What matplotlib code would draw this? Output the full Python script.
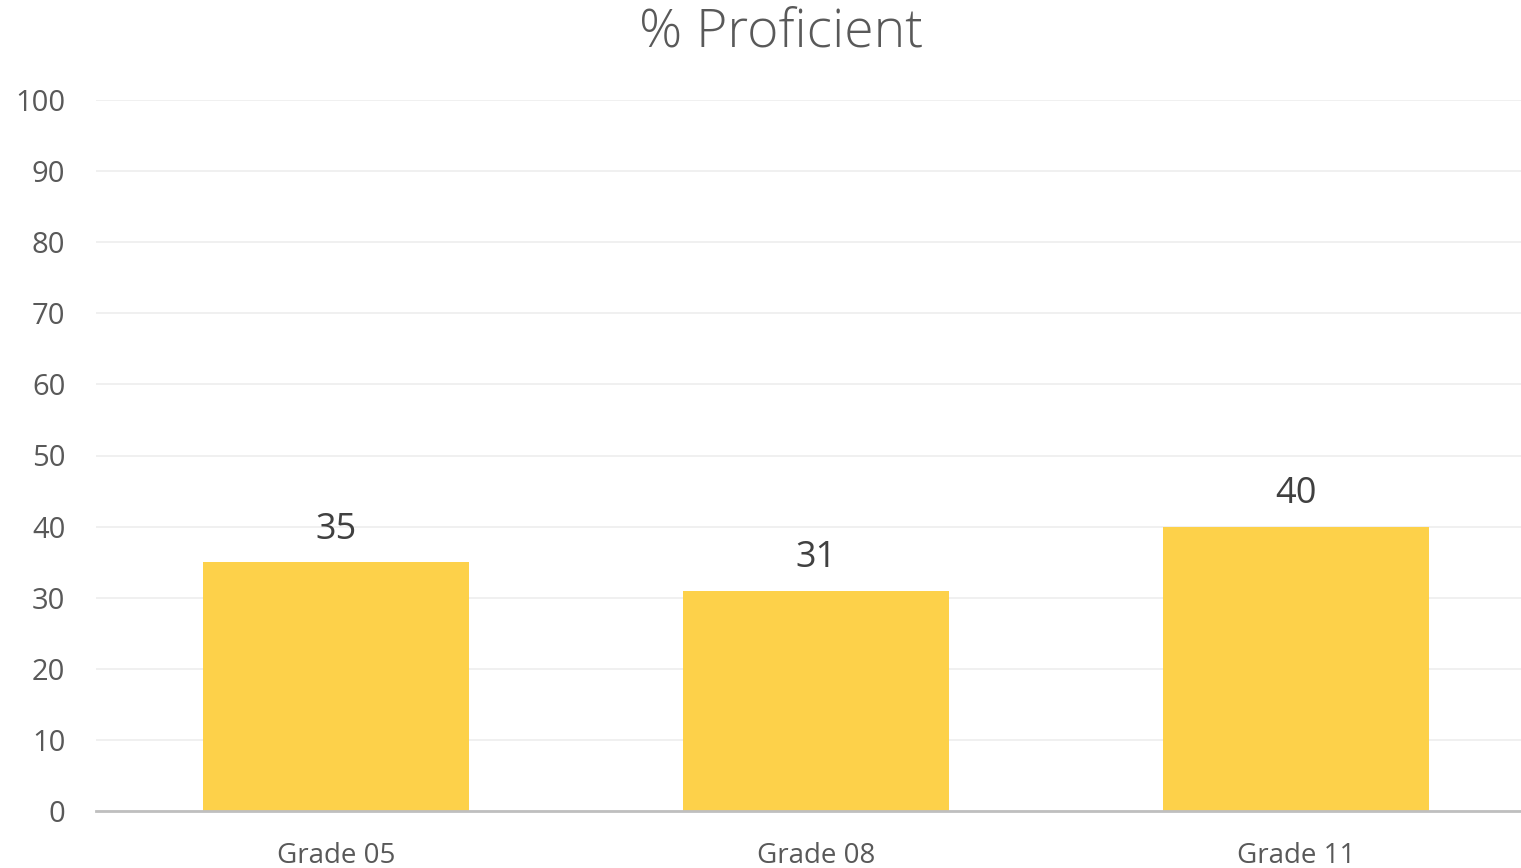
import matplotlib
matplotlib.use("Agg")
import matplotlib.pyplot as plt

categories = ["Grade 05", "Grade 08", "Grade 11"]
values = [35, 31, 40]
yticks = [0, 10, 20, 30, 40, 50, 60, 70, 80, 90, 100]

plt.rcParams['font.family'] = ['Open Sans', 'DejaVu Sans']

W, H = 1521, 868
fig = plt.figure(figsize=(W / 100, H / 100), dpi=100)
ax = fig.add_axes([96 / W, 1 - 811 / H, 1 - 96 / W, (811 - 100) / H])

x = list(range(len(categories)))
bars = ax.bar(x, values, width=0.556, color="#FDD14A", zorder=2)
for xi, v in zip(x, values):
    ax.text(xi, v + 2.0, f"{v}", ha="center", va="bottom", fontsize=26, color="#404040")

ax.set_xlim(-0.5, (1521 - 336) / 480)
ax.set_ylim(0, 100)
ax.set_yticks(yticks)
ax.set_yticklabels([str(t) for t in yticks], fontsize=21, color="#595959")
ax.set_xticks(x)
ax.set_xticklabels(categories, fontsize=20, color="#595959")
ax.tick_params(axis="both", length=0)
ax.tick_params(axis="y", pad=22)
ax.tick_params(axis="x", pad=22)
ax.grid(axis="y", color="#EDEDED", linewidth=1.2, zorder=0)
for s in ["top", "right", "left"]:
    ax.spines[s].set_visible(False)
ax.spines["bottom"].set_color("#BFBFBF")
ax.spines["bottom"].set_linewidth(2)
ax.spines["bottom"].set_zorder(3)

fig.text(781 / W, 1 - 33 / H, "% Proficient", ha="center", va="center", fontsize=38.5,
         color="#595959", fontweight="light")

fig.savefig("out.png", dpi=100)
